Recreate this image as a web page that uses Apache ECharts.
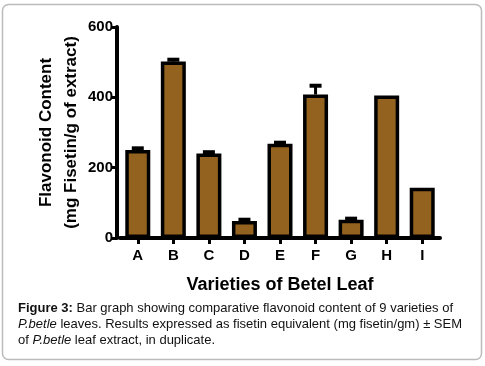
<!DOCTYPE html>
<html>
<head>
<meta charset="utf-8">
<script src="https://cdn.jsdelivr.net/npm/echarts@6/dist/echarts.min.js"></script>
<style>
  html, body { margin: 0; padding: 0; background: #fff; }
  #chart { width: 485px; height: 366px; }
</style>
</head>
<body>
<div id="chart"></div>
<script>
// data
var varieties = ['A', 'B', 'C', 'D', 'E', 'F', 'G', 'H', 'I'];
var flavonoid = [250, 502, 240, 48, 268, 408, 52, 405, 143];
var sem = [5, 5, 4, 4, 3, 25, 3, 0, 0];
var yTicks = [0, 200, 400, 600];

var chart = echarts.init(document.getElementById('chart'));
var font = 'Liberation Sans, Arial, sans-serif';
var barColor = '#94621f';

// error bars (upper half only, like the original)
var errData = [];
for (var i = 0; i < varieties.length; i++) {
  errData.push([i, flavonoid[i], flavonoid[i] + sem[i]]);
}

var option = {
  animation: false,
  grid: { left: 120, right: 45, top: 27, bottom: 128 },
  xAxis: {
    type: 'category',
    data: varieties,
    axisLine: { lineStyle: { color: '#000', width: 4 } },
    axisTick: { show: true, alignWithLabel: true, length: 6, lineStyle: { color: '#000', width: 3 } },
    axisLabel: { color: '#000', fontSize: 15, fontWeight: 'bold', fontFamily: font, margin: 10 },
    name: 'Varieties of Betel Leaf',
    nameLocation: 'middle',
    nameGap: 38,
    nameMoveOverlap: false,
    nameTextStyle: { color: '#000', fontSize: 18, fontWeight: 'bold', fontFamily: font }
  },
  yAxis: {
    type: 'value',
    min: 0,
    max: 600,
    interval: 200,
    offset: 3,
    splitLine: { show: false },
    axisLine: { show: true, lineStyle: { color: '#000', width: 4 } },
    axisTick: { show: true, length: 6, lineStyle: { color: '#000', width: 3 } },
    axisLabel: {
      color: '#000', fontSize: 15, fontWeight: 'bold', fontFamily: font, margin: 4,
      formatter: function (v) { return yTicks.indexOf(v) >= 0 ? String(v) : ''; }
    },
    name: 'Flavonoid Content\n(mg Fisetin/g of extract)',
    nameLocation: 'middle',
    nameGap: 33,
    nameMoveOverlap: false,
    nameTextStyle: { color: '#000', fontSize: 17, fontWeight: 'bold', fontFamily: font, lineHeight: 25 }
  },
  series: [
    {
      type: 'bar',
      data: flavonoid,
      barWidth: 25,
      itemStyle: { color: barColor, borderColor: '#000', borderWidth: 3.5 }
    },
    {
      type: 'custom',
      data: errData,
      z: 5,
      renderItem: function (params, api) {
        var base = api.coord([api.value(0), api.value(1)]);
        var top = api.coord([api.value(0), api.value(2)]);
        if (base[1] - top[1] < 1) return null;
        return {
          type: 'group',
          children: [
            { type: 'line', shape: { x1: base[0], y1: base[1], x2: top[0], y2: top[1] },
              style: { stroke: '#000', lineWidth: 3 } },
            { type: 'line', shape: { x1: top[0] - 6, y1: top[1], x2: top[0] + 6, y2: top[1] },
              style: { stroke: '#000', lineWidth: 4 } }
          ]
        };
      }
    }
  ],
  graphic: [
    {
      type: 'rect',
      shape: { x: 2.5, y: 4.5, width: 479, height: 355, r: 6 },
      style: { fill: 'none', stroke: '#bbb', lineWidth: 1.5 },
      z: -1
    },
    {
      type: 'text',
      left: 18,
      top: 300,
      style: {
        text: '{b|Figure 3:} Bar graph showing comparative flavonoid content of 9 varieties of\n' +
              '{i|P.betle} leaves. Results expressed as fisetin equivalent (mg fisetin/gm) ± SEM\n' +
              'of {i|P.betle} leaf extract, in duplicate.',
        font: '13px ' + font,
        fill: '#111',
        lineHeight: 16,
        rich: {
          b: { fontWeight: 'bold', fontSize: 13, fontFamily: font, fill: '#111' },
          i: { fontStyle: 'italic', fontSize: 13, fontFamily: font, fill: '#111' }
        }
      }
    }
  ]
};

chart.setOption(option);
</script>
</body>
</html>
